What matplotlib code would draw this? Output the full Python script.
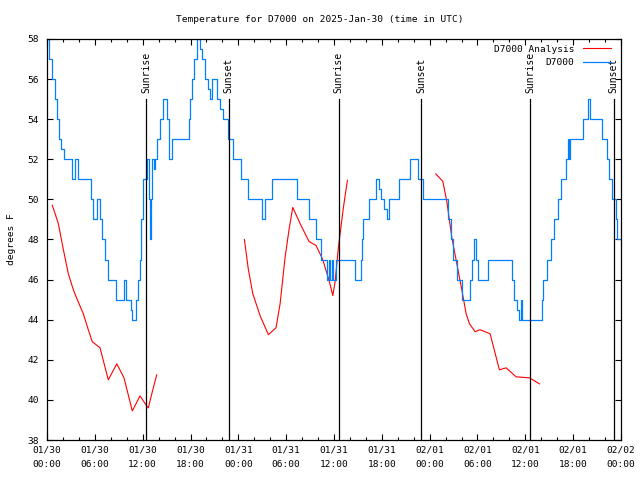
import matplotlib
matplotlib.use("Agg")
import matplotlib.pyplot as plt
import numpy as np

# ---- data (hours since 2025-01-30 00:00 UTC) ----
obs_hours = [0.0, 0.25, 0.63, 1.0, 1.25, 1.5, 1.75, 2.13, 3.14, 3.5, 3.9, 5.5, 5.77, 6.27, 6.65,
             6.9, 7.28, 7.65, 8.66, 9.66, 9.9, 10.54, 10.67, 11.17, 11.42, 11.67, 11.8, 12.05,
             12.55, 12.8, 12.92, 13.05, 13.17, 13.43, 13.55, 13.8, 14.18, 14.55, 15.06, 15.3,
             15.68, 17.82, 17.94, 18.19, 18.44, 18.82, 19.2, 19.45, 19.82, 20.2, 20.45, 20.7,
             21.33, 21.7, 22.08, 22.7, 23.34, 24.34, 25.22, 26.98, 27.35, 28.23, 31.37, 32.87,
             33.75, 34.38, 35.13, 35.38, 35.5, 35.76, 35.88, 36.26, 38.64, 39.4, 39.52, 39.65,
             40.4, 41.28, 41.66, 41.9, 42.28, 42.66, 42.91, 44.17, 45.55, 46.55, 47.18, 50.31,
             50.69, 50.94, 51.44, 52.07, 53.07, 53.33, 53.58, 53.83, 54.08, 55.33, 58.34, 58.6,
             58.97, 59.22, 59.47, 59.6, 62.1, 62.23, 62.74, 63.24, 63.61, 64.12, 64.49, 65.12,
             65.37, 65.5, 65.62, 66.37, 67.25, 67.88, 68.13, 69.64, 70.26, 70.51, 70.89, 71.39,
             71.51, 72.0]
obs_temps = [58, 57, 56, 55, 54, 53, 52.5, 52, 51, 52, 51, 50, 49, 50, 49,
             48, 47, 46, 45, 46, 45, 44.5, 44, 45, 46, 47, 49, 51,
             52, 50, 48, 50, 52, 51.5, 52, 53, 54, 55, 54, 52,
             53, 54, 55, 56, 57, 58, 57.5, 57, 56, 55.5, 55, 56,
             55, 54.5, 54, 53, 52, 51, 50, 49, 50, 51, 50, 49,
             48, 47, 46, 47, 46, 47, 46, 47, 46, 47, 48, 49,
             50, 51, 50.5, 50, 49.5, 49, 50, 51, 52, 51, 50, 49,
             48, 47, 46, 45, 46, 47, 48, 47, 46, 47, 46, 45,
             44.5, 44, 45, 44, 45, 46, 47, 48, 49, 50, 51, 52,
             53, 52, 53, 53, 54, 55, 54, 53, 52, 51, 50, 49,
             48, 48]

ana_hours = [0.67, 1.42, 2.05, 2.67, 3.3, 3.8, 4.55, 5.18, 5.68, 6.65, 7.69, 8.75, 9.66, 10.7,
             11.67, 12.42, 12.71, 13.14, 13.76, np.nan,
             24.76, 25.26, 25.81, 26.73, 27.77, 28.73, 29.24, 29.86, 30.4, 30.83, 31.74, 32.87,
             33.75, 34.59, 35.42, 35.85, 36.14, 36.55, 37.18, 37.68, np.nan,
             48.77, 49.65, 50.15, 50.78, 51.4, 52.03, 52.57, 52.99, 53.7, 54.33, 55.58, 56.75,
             57.59, 58.84, 60.52, 61.77]
ana_temps = [49.7, 48.8, 47.5, 46.3, 45.5, 45.0, 44.3, 43.5, 42.9, 42.6, 41.0, 41.8, 41.1, 39.45,
             40.2, 39.75, 39.6, 40.3, 41.25, np.nan,
             48.0, 46.5, 45.3, 44.2, 43.25, 43.6, 44.8, 47.1, 48.6, 49.6, 48.8, 47.9,
             47.7, 47.0, 45.9, 45.2, 45.9, 47.6, 49.6, 50.95, np.nan,
             51.27, 50.9, 49.9, 48.1, 46.8, 45.5, 44.3, 43.8, 43.4, 43.5, 43.3, 41.5,
             41.6, 41.15, 41.1, 40.8]

sun_hours = [12.48, 22.78, 36.6, 46.9, 60.6, 71.08]
sun_labels = ["Sunrise", "Sunset", "Sunrise", "Sunset", "Sunrise", "Sunset"]

tick_hours = list(range(0, 73, 6))
tick_labels = ["01/30\n00:00", "01/30\n06:00", "01/30\n12:00", "01/30\n18:00",
               "01/31\n00:00", "01/31\n06:00", "01/31\n12:00", "01/31\n18:00",
               "02/01\n00:00", "02/01\n06:00", "02/01\n12:00", "02/01\n18:00",
               "02/02\n00:00"]
y_ticks = list(range(38, 59, 2))

FONT = "DejaVu Sans Mono"
FS = 6.8

fig = plt.figure(figsize=(6.4, 4.8), dpi=100)
ax = fig.add_axes([47/640, 1-440/480, 574/640, 401/480])

ax.plot(ana_hours, ana_temps, color="#ff0000", lw=0.8, label="D7000 Analysis")
ax.plot(obs_hours, obs_temps, color="#0080ff", lw=0.9, drawstyle="steps-post", label="D7000")

for h, lab in zip(sun_hours, sun_labels):
    ax.plot([h, h], [38, 55], color="black", lw=0.9)
    ax.text(h, 55.3, lab, rotation=90, ha="center", va="bottom",
            fontsize=7, family=FONT)

ax.set_xlim(0, 72)
ax.set_ylim(38, 58)
ax.set_xticks(tick_hours)
ax.set_xticklabels(tick_labels, family=FONT, fontsize=FS, linespacing=1.75)
ax.set_xticks(np.arange(0, 73, 2), minor=True)
ax.set_yticks(y_ticks)
ax.set_yticklabels([str(v) for v in y_ticks], family=FONT, fontsize=FS)
ax.tick_params(which="both", direction="in", top=True, right=True, width=0.8)
ax.tick_params(which="major", length=4.5)
ax.tick_params(which="minor", length=2.5)
ax.tick_params(axis="y", pad=6)
ax.tick_params(axis="x", pad=4)
for s in ax.spines.values():
    s.set_linewidth(0.9)

ax.set_ylabel("degrees F", family=FONT, fontsize=FS)
ax.yaxis.set_label_coords(-31/574, 0.5)
fig.text(0.5, 1-20/480, "Temperature for D7000 on 2025-Jan-30 (time in UTC)",
         ha="center", va="center", family=FONT, fontsize=FS)

leg = ax.legend(loc="upper right", bbox_to_anchor=(0.993, 1.0), frameon=False,
                markerfirst=False, prop={"family": FONT, "size": FS},
                handlelength=3.0, handletextpad=0.9, labelspacing=0.45, borderaxespad=0.2)
for t in leg.get_texts():
    t.set_ha("right")

fig.savefig("out.png", dpi=100)
